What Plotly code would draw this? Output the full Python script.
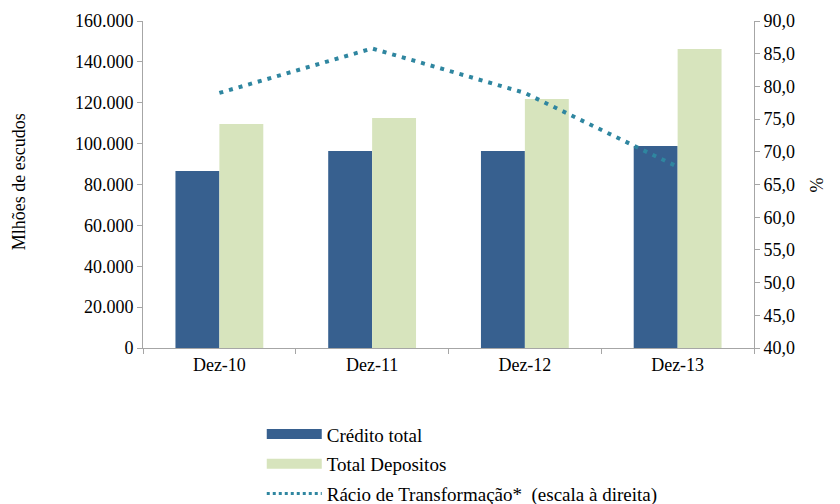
import plotly.graph_objects as go

categories = ["Dez-10", "Dez-11", "Dez-12", "Dez-13"]
credito_total = [86600, 96400, 96400, 98800]
total_depositos = [109600, 112500, 121800, 146300]
racio_transformacao = [79.0, 85.8, 79.0, 67.7]

left_ticks = [0, 20000, 40000, 60000, 80000, 100000, 120000, 140000, 160000]
right_ticks = [40, 45, 50, 55, 60, 65, 70, 75, 80, 85, 90]

BLUE = "#37608F"
GREEN = "#D7E4BD"
TEAL = "#2F86A0"
FONT = "Liberation Serif"
F = dict(family=FONT, size=18, color="black")
FL = dict(family=FONT, size=19, color="black")

fig = go.Figure()
fig.add_trace(go.Bar(x=categories, y=credito_total, name="Crédito total",
                     marker_color=BLUE, marker_line_width=0, showlegend=False))
fig.add_trace(go.Bar(x=categories, y=total_depositos, name="Total Depositos",
                     marker_color=GREEN, marker_line_width=0, showlegend=False))
fig.add_trace(go.Scatter(x=categories, y=racio_transformacao, yaxis="y2",
                         mode="lines", line=dict(color=TEAL, width=4, dash="4px,6px"),
                         name="Rácio de Transformação* (escala à direita)",
                         showlegend=False))
# legend entries (wide swatches like the original)
fig.add_trace(go.Scatter(x=[None], y=[None], mode="lines", name="Crédito total",
                         line=dict(color=BLUE, width=11), legendgroup="a"))
fig.add_trace(go.Scatter(x=[None], y=[None], mode="lines", name="Total Depositos",
                         line=dict(color=GREEN, width=11), legendgroup="b"))
fig.add_trace(go.Scatter(x=[None], y=[None], mode="lines",
                         name="Rácio de Transformação*  (escala à direita)",
                         line=dict(color=TEAL, width=3, dash="3px,3px"), legendgroup="c"))

axis_common = dict(showline=True, linecolor="#A6A6A6", linewidth=1,
                   ticks="outside", ticklen=5, tickcolor="#A6A6A6",
                   showgrid=False, zeroline=False, automargin=False, tickfont=F)

fig.update_layout(
    template="none",
    width=832, height=504,
    margin=dict(l=135, r=86, t=13, b=164, autoexpand=False),
    paper_bgcolor="white", plot_bgcolor="white",
    font=F,
    separators=",.",
    barmode="group", bargap=0.425, bargroupgap=0,
    showlegend=True,
    legend=dict(xref="container", yref="container", x=0.305, y=0.192,
                xanchor="left", yanchor="top",
                orientation="v", itemwidth=55, tracegroupgap=2,
                font=FL, bgcolor="rgba(0,0,0,0)", borderwidth=0),
    xaxis=dict(type="category", tickson="boundaries", **axis_common),
    yaxis=dict(range=[0, 160000], tickvals=left_ticks, tickformat=",d",
               **axis_common),
    yaxis2=dict(range=[40, 90], tickvals=right_ticks, tickformat=".1f",
                overlaying="y", side="right", **axis_common),
    annotations=[
        dict(text="Mlhões de escudos", xref="paper", yref="paper",
             x=-0.203, y=0.51, xanchor="center", yanchor="middle",
             textangle=-90, showarrow=False, font=F),
        dict(text="%", xref="paper", yref="paper",
             x=1.103, y=0.5, xanchor="center", yanchor="middle",
             textangle=-90, showarrow=False, font=F),
    ],
)

fig.write_html("out.html")
